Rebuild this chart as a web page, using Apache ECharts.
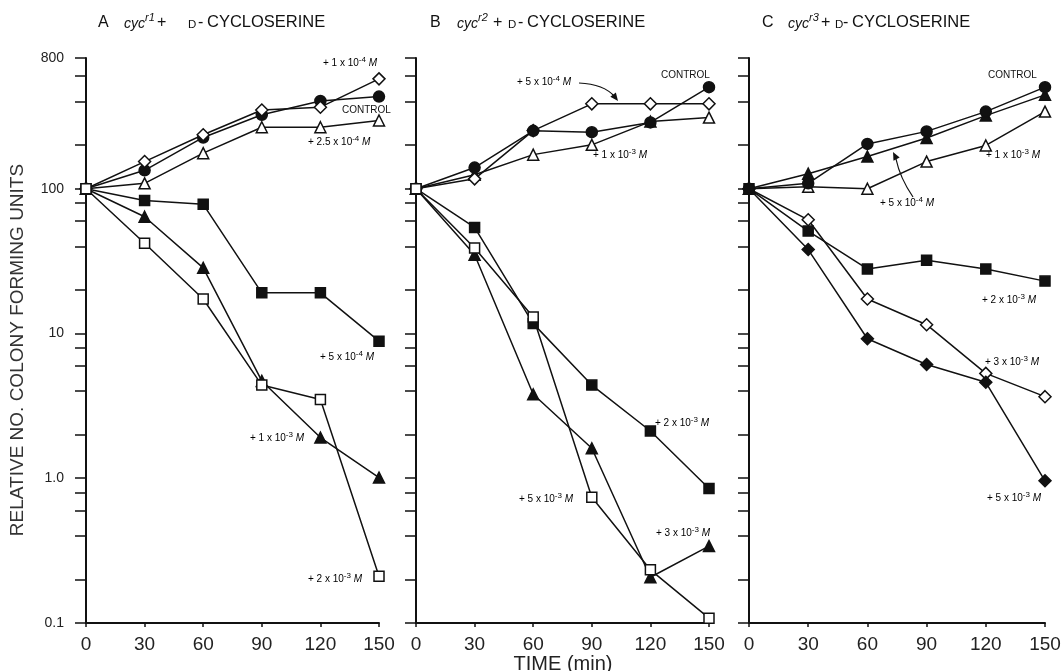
<!DOCTYPE html>
<html><head><meta charset="utf-8">
<script src="https://cdn.jsdelivr.net/npm/echarts@6/dist/echarts.min.js"></script>
<style>html,body{margin:0;padding:0;background:#fff}#c{width:1062px;height:671px}</style>
</head><body><div id="c"></div><script>
// ---- data ----
const times = [0, 30, 60, 90, 120, 150];
const xTickValues = [0, 30, 60, 90, 120, 150];
const yTickValues = [0.1,0.2,0.4,0.6,0.8,1,2,4,6,8,10,20,40,60,80,100,200,400,600,800];
const yLabelValues = [0.1, 1, 10, 100, 800];
const yLabelTexts = ['0.1', '1.0', '10', '100', '800'];

// Panel A: cyc r1
const aControl = [100, 134, 226, 324, 404, 433];
const a1e4     = [100, 154, 236, 350, 366, 574];
const a25e4    = [100, 109, 176, 266, 266, 296];
const a5e4     = [100, 83, 78, 19.1, 19.1, 8.85];
const a1e3     = [100, 64, 28.4, 4.7, 1.91, 1.01];
const a2e3     = [100, 42, 17.3, 4.4, 3.5, 0.21];

// Panel B: cyc r2
const bControl = [100, 140, 251, 246, 287, 503];
const b5e4     = [100, 117, 252, 386, 386, 386];
const b1e3     = [100, 125, 172, 201, 291, 310];
const b2e3     = [100, 54, 11.7, 4.4, 2.12, 0.85];
const b5e3     = [100, 39, 13, 0.74, 0.233, 0.108];
const b3e3     = [100, 35, 3.8, 1.61, 0.207, 0.34];

// Panel C: cyc r3
const cControl = [100, 109, 204, 249, 341, 503];
const c5e4     = [100, 127, 167, 224, 320, 445];
const c1e3     = [100, 103, 100, 154, 199, 341];
const c2e3     = [100, 51, 27.9, 32, 27.9, 23];
const c3e3     = [100, 61, 17.3, 11.5, 5.3, 3.66];
const c5e3     = [100, 38, 9.2, 6.1, 4.6, 0.96];

// texts
const panelLetters = ['A', 'B', 'C'];
const panelStrains = ['r1', 'r2', 'r3'];
const yTitle = 'RELATIVE NO. COLONY FORMING UNITS';
const xTitle = 'TIME (min)';

// ---- chart ----
const INK = '#111';
const FONT = '"Liberation Sans", Arial, sans-serif';
const grids = [
  {left: 86, top: 58, width: 293, height: 565},
  {left: 416, top: 58, width: 293, height: 565},
  {left: 749, top: 58, width: 296, height: 565}
];

function xAxisCfg(i) {
  return {
    type: 'value', gridIndex: i, min: 0, max: 150, interval: 30,
    axisLine: {show: true, lineStyle: {color: INK, width: 2}},
    axisTick: {show: true, length: 4, lineStyle: {color: INK, width: 1.5}, customValues: xTickValues},
    axisLabel: {fontSize: 19, color: '#222', margin: 12, fontFamily: FONT, customValues: xTickValues},
    splitLine: {show: false}
  };
}
function yAxisCfg(i) {
  return {
    type: 'log', logBase: 10, gridIndex: i, min: 0.1, max: 800,
    axisLine: {show: true, lineStyle: {color: INK, width: 2}},
    axisTick: {show: true, inside: false, length: 11, lineStyle: {color: INK, width: 1.5}, customValues: yTickValues},
    axisLabel: {show: i === 0, customValues: yLabelValues, fontSize: 14, color: '#222', margin: 22, fontFamily: FONT,
      formatter: v => { const k = yLabelValues.findIndex(t => Math.abs(t - v) < 1e-9 * Math.max(1, t)); return k >= 0 ? yLabelTexts[k] : ''; }},
    splitLine: {show: false}, minorTick: {show: false}
  };
}
function ser(i, vals, symbol, filled, size) {
  return {
    type: 'line', xAxisIndex: i, yAxisIndex: i,
    data: times.map((t, k) => [t, vals[k]]),
    symbol: symbol, symbolSize: size, showAllSymbol: true,
    lineStyle: {color: INK, width: 1.5},
    itemStyle: {color: filled ? INK : '#fff', borderColor: INK, borderWidth: 1.5},
    emphasis: {disabled: true}, animation: false
  };
}
const series = [
  ser(0, a25e4, 'triangle', false, 11),
  ser(0, aControl, 'circle', true, 11),
  ser(0, a1e4, 'diamond', false, 12),
  ser(0, a5e4, 'rect', true, 10),
  ser(0, a1e3, 'triangle', true, 11),
  ser(0, a2e3, 'rect', false, 10),

  ser(1, b1e3, 'triangle', false, 11),
  ser(1, b5e4, 'diamond', false, 12),
  ser(1, bControl, 'circle', true, 11),
  ser(1, b2e3, 'rect', true, 10),
  ser(1, b3e3, 'triangle', true, 11),
  ser(1, b5e3, 'rect', false, 10),

  ser(2, c1e3, 'triangle', false, 11),
  ser(2, c5e4, 'triangle', true, 11),
  ser(2, cControl, 'circle', true, 11),
  ser(2, c2e3, 'rect', true, 10),
  ser(2, c3e3, 'diamond', false, 12),
  ser(2, c5e3, 'diamond', true, 12)
];

const annRich = {
  t: {fontSize: 10, fontFamily: FONT, color: INK},
  s: {fontSize: 8, fontFamily: FONT, color: INK, verticalAlign: 'top', lineHeight: 14},
  m: {fontSize: 10, fontFamily: FONT, color: INK, fontStyle: 'italic'}
};
function ann(x, y, num, exp) {
  return {type: 'text', x: x, y: y, z: 100,
    style: {text: `{t|+ ${num} x 10}{s|-${exp}}{m| M}`, rich: annRich, align: 'left', verticalAlign: 'middle'}};
}
function txt(x, y, t, size, extra) {
  return {type: 'text', x: x, y: y, z: 100,
    style: Object.assign({text: t, fontSize: size, fontFamily: FONT, fill: INK, align: 'left', verticalAlign: 'bottom'}, extra || {})};
}
// title piece x positions per panel: letter, cyc, sup, +, D, -, CYCLOSERINE
const titleX = [
  [98, 124, 145, 157, 188, 198, 207],
  [430, 457, 478, 493, 508, 518, 527],
  [762, 788, 809, 821, 835, 843, 852]
];
function title(i) {
  const p = titleX[i], base = 31;
  return [
    txt(p[0], base, panelLetters[i], 16),
    txt(p[1], base, 'cyc', 14, {fontStyle: 'italic'}),
    txt(p[2], base - 8, panelStrains[i], 11, {fontStyle: 'italic'}),
    txt(p[3], base, '+', 16),
    txt(p[4], base - 0.5, 'D', 11.5),
    txt(p[5], base, '-', 16),
    txt(p[6], base, 'CYCLOSERINE', 16.5)
  ];
}

const graphics = [].concat(
  title(0), title(1), title(2),
  [
  {type: 'text', x: 18, y: 350, rotation: Math.PI / 2, z: 100,
   style: {text: yTitle, fontSize: 19, fontFamily: FONT, fill: '#333', align: 'center', verticalAlign: 'middle'}},
  {type: 'text', x: 563, y: 664, z: 100,
   style: {text: xTitle, fontSize: 20, fontFamily: FONT, fill: '#222', align: 'center', verticalAlign: 'middle'}},
  // panel A
  ann(323, 63, '1', '4'), txt(342, 115, 'CONTROL', 10), ann(308, 142, '2.5', '4'),
  ann(320, 357, '5', '4'), ann(250, 438, '1', '3'), ann(308, 579, '2', '3'),
  // panel B
  ann(517, 82, '5', '4'), txt(661, 80, 'CONTROL', 10), ann(593, 155, '1', '3'),
  ann(655, 423, '2', '3'), ann(519, 499, '5', '3'), ann(656, 533, '3', '3'),
  // panel C
  txt(988, 80, 'CONTROL', 10), ann(986, 155, '1', '3'), ann(880, 203, '5', '4'),
  ann(982, 300, '2', '3'), ann(985, 362, '3', '3'), ann(987, 498, '5', '3'),
  // arrows
  {type: 'bezierCurve', z: 100, shape: {x1: 579, y1: 83, cpx1: 604, cpy1: 84, x2: 615, y2: 97},
   style: {stroke: INK, lineWidth: 1.2, fill: null}},
  {type: 'polygon', z: 100, shape: {points: [[618, 101], [610.3, 96.7], [615.9, 92.5]]}, style: {fill: INK}},
  {type: 'bezierCurve', z: 100, shape: {x1: 913, y1: 197, cpx1: 900, cpy1: 178, x2: 896, y2: 159},
   style: {stroke: INK, lineWidth: 1.2, fill: null}},
  {type: 'polygon', z: 100, shape: {points: [[893, 152], [899.7, 157.6], [893.5, 160.8]]}, style: {fill: INK}}
  ]
);

const chart = echarts.init(document.getElementById('c'), null, {renderer: 'canvas'});
chart.setOption({
  animation: false,
  backgroundColor: '#fff',
  grid: grids.map(g => Object.assign({containLabel: false, outerBoundsMode: 'none'}, g)),
  xAxis: [0, 1, 2].map(xAxisCfg),
  yAxis: [0, 1, 2].map(yAxisCfg),
  series: series,
  graphic: graphics
});
</script></body></html>
